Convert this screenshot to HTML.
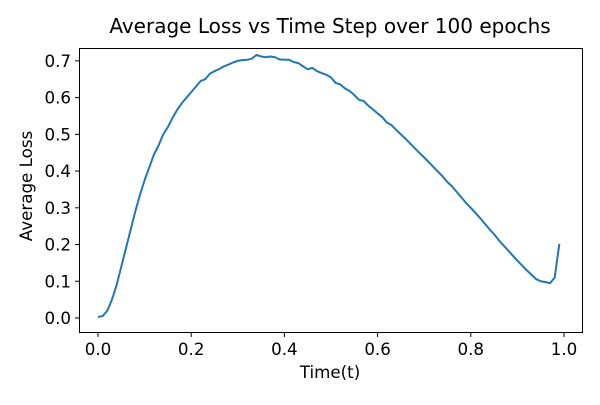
<!DOCTYPE html>
<html><head><meta charset="utf-8"><style>
body{margin:0;background:#fff}
svg text{font-family:"DejaVu Sans","Liberation Sans",sans-serif;fill:#000}
</style></head><body>
<svg id="chart" width="600" height="400">
<rect width="600" height="400" fill="#fff"/>
<text x="330" y="33" font-size="20" text-anchor="middle">Average Loss vs Time Step over 100 epochs</text>
<g id="xticks"></g><g id="yticks"></g>
<path id="line" fill="none" stroke="#1f77b4" stroke-width="2" stroke-linejoin="round"/>
<rect x="79.5" y="48.5" width="503" height="284" fill="none" stroke="#000" stroke-width="1"/>
<text x="330" y="378" font-size="16.7" text-anchor="middle">Time(t)</text>
<text transform="translate(32,186) rotate(-90)" font-size="16.7" text-anchor="middle">Average Loss</text>
</svg>
<script>
const losses=[0.003,0.005,0.02,0.05,0.09,0.14,0.19,0.24,0.29,0.335,0.375,0.41,0.445,0.47,0.5,0.52,0.545,0.567,0.585,0.6,0.615,0.63,0.645,0.65,0.665,0.672,0.678,0.685,0.69,0.696,0.7,0.702,0.703,0.706,0.716,0.712,0.71,0.712,0.71,0.704,0.703,0.703,0.697,0.694,0.685,0.677,0.681,0.672,0.667,0.662,0.655,0.64,0.636,0.625,0.618,0.607,0.594,0.591,0.578,0.568,0.557,0.547,0.532,0.525,0.512,0.5,0.488,0.475,0.462,0.449,0.437,0.424,0.411,0.398,0.385,0.37,0.358,0.343,0.328,0.313,0.3,0.286,0.272,0.257,0.242,0.228,0.212,0.198,0.184,0.17,0.156,0.143,0.13,0.118,0.106,0.1,0.098,0.095,0.11,0.202];
const xTickLabels=["0.0","0.2","0.4","0.6","0.8","1.0"];
const yTickLabels=["0.0","0.1","0.2","0.3","0.4","0.5","0.6","0.7"];
const NS="http://www.w3.org/2000/svg";
const xs=v=>98+v*466, ys=v=>318-v*367.3;
let d="";
losses.forEach((v,i)=>{d+=(i?"L":"M")+xs(i/100).toFixed(2)+","+ys(v).toFixed(2);});
document.getElementById("line").setAttribute("d",d);
const xg=document.getElementById("xticks"), yg=document.getElementById("yticks");
xTickLabels.forEach(l=>{const x=xs(parseFloat(l));
 const t=document.createElementNS(NS,"line");t.setAttribute("x1",x);t.setAttribute("x2",x);t.setAttribute("y1",332.5);t.setAttribute("y2",337);t.setAttribute("stroke","#000");
 
 
 xg.appendChild(t);
 const s=document.createElementNS(NS,"text");s.setAttribute("x",x);s.setAttribute("y",355);s.setAttribute("font-size","16.7");s.setAttribute("text-anchor","middle");s.textContent=l;
 
 
 xg.appendChild(s);});
yTickLabels.forEach(l=>{const y=ys(parseFloat(l));
 const t=document.createElementNS(NS,"line");t.setAttribute("x1",75);t.setAttribute("x2",79.5);t.setAttribute("y1",y);t.setAttribute("y2",y);t.setAttribute("stroke","#000");
 
 
 yg.appendChild(t);
 const s=document.createElementNS(NS,"text");s.setAttribute("x",71);s.setAttribute("y",y+6);s.setAttribute("font-size","16.7");s.setAttribute("text-anchor","end");s.textContent=l;
 
 
 yg.appendChild(s);});
</script>
</body></html>
